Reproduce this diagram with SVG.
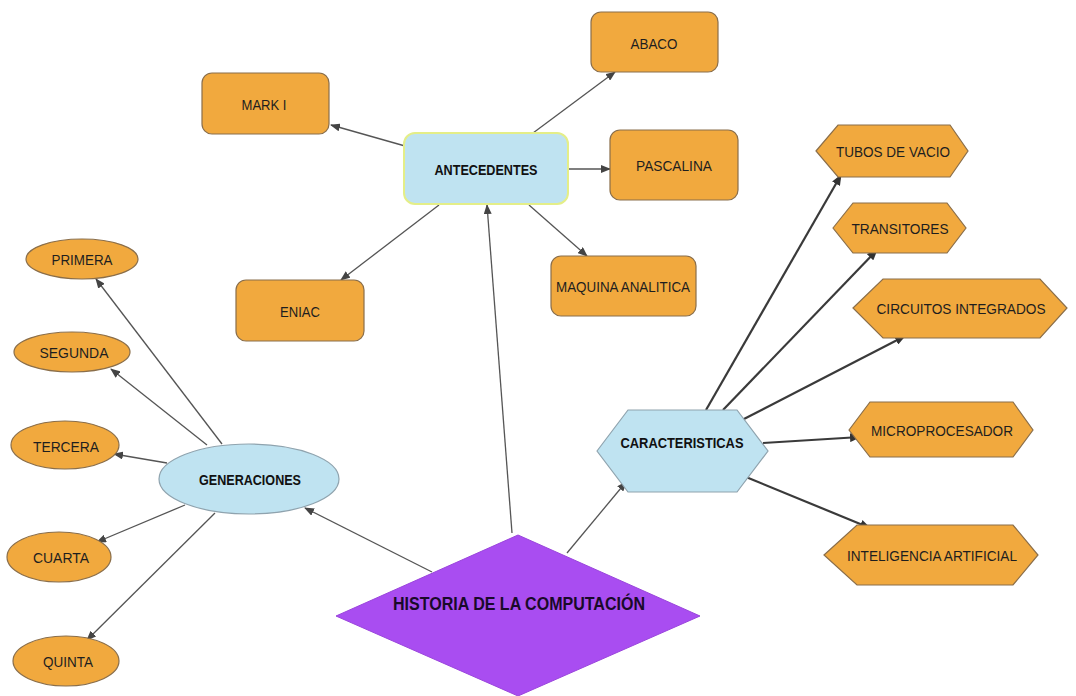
<svg xmlns="http://www.w3.org/2000/svg" width="1076" height="696" viewBox="0 0 1076 696">
<style>
.box{fill:#F1A93E;stroke:#8A6E4A;stroke-width:1.2}
.blue{fill:#BFE3F1;stroke:#8FA3AE;stroke-width:1.2}
.t{font-family:"Liberation Sans",Arial,sans-serif;font-size:15px;fill:#1E1E1E;text-anchor:middle;dominant-baseline:central}
.b{font-weight:bold;fill:#111}
.c{stroke:#555;stroke-width:1.3;fill:none;marker-end:url(#ah)}
.ck{stroke:#3A3A3A;stroke-width:2.2;fill:none;marker-end:url(#ah2)}
</style>
<defs>
<marker id="ah" markerUnits="userSpaceOnUse" markerWidth="10" markerHeight="8" refX="9" refY="4" orient="auto"><path d="M0,0 L10,4 L0,8 Z" fill="#444"/></marker>
<marker id="ah2" markerUnits="userSpaceOnUse" markerWidth="11" markerHeight="9" refX="10" refY="4.5" orient="auto"><path d="M0,0 L11,4.5 L0,9 Z" fill="#333"/></marker>
</defs>
<rect width="1076" height="696" fill="#FFFFFF"/>
<g id="connectors">
<line class="c" x1="512" y1="533" x2="487" y2="205"/>
<line class="c" x1="432" y1="572" x2="305" y2="508"/>
<line class="c" x1="567" y1="553" x2="626" y2="482"/>
<line class="c" x1="533" y1="133" x2="615" y2="72"/>
<line class="c" x1="405" y1="146" x2="331" y2="125"/>
<line class="c" x1="568" y1="169" x2="610" y2="169"/>
<line class="c" x1="439" y1="205" x2="341" y2="280"/>
<line class="c" x1="529" y1="205" x2="587" y2="256"/>
<line class="c" x1="222" y1="444" x2="96" y2="279"/>
<line class="c" x1="207" y1="445" x2="111" y2="369"/>
<line class="c" x1="167" y1="463" x2="114" y2="454"/>
<line class="c" x1="185" y1="505" x2="97" y2="542"/>
<line class="c" x1="215" y1="513" x2="87" y2="640"/>
<line class="ck" x1="706" y1="410" x2="841" y2="175"/>
<line class="ck" x1="723" y1="410" x2="877" y2="250"/>
<line class="ck" x1="742" y1="420" x2="905" y2="336"/>
<line class="ck" x1="763" y1="443" x2="860" y2="437"/>
<line class="ck" x1="746" y1="477" x2="870" y2="528"/>
</g>
<g id="abaco"><rect class="box" x="591" y="12" width="127" height="60" rx="10"/><text class="t" x="654" y="43" textLength="47" lengthAdjust="spacingAndGlyphs">ABACO</text></g>
<g id="marki"><rect class="box" x="202" y="73" width="127" height="61" rx="10"/><text class="t" x="264" y="104" textLength="45" lengthAdjust="spacingAndGlyphs">MARK I</text></g>
<g id="antecedentes"><rect x="404" y="133" width="164" height="71" rx="11" fill="#BFE3F1" stroke="#E4EE88" stroke-width="2"/><text class="t b" x="486" y="169" textLength="103" lengthAdjust="spacingAndGlyphs">ANTECEDENTES</text></g>
<g id="pascalina"><rect class="box" x="610" y="130" width="128" height="70" rx="10"/><text class="t" x="674" y="165" textLength="76" lengthAdjust="spacingAndGlyphs">PASCALINA</text></g>
<g id="eniac"><rect class="box" x="236" y="280" width="128" height="61" rx="10"/><text class="t" x="300" y="311" textLength="40" lengthAdjust="spacingAndGlyphs">ENIAC</text></g>
<g id="maquina"><rect class="box" x="551" y="256" width="145" height="60" rx="10"/><text class="t" x="623" y="286" textLength="134" lengthAdjust="spacingAndGlyphs">MAQUINA ANALITICA</text></g>
<g id="primera"><ellipse class="box" cx="82" cy="259" rx="56" ry="20"/><text class="t" x="82" y="259" textLength="61" lengthAdjust="spacingAndGlyphs">PRIMERA</text></g>
<g id="segunda"><ellipse class="box" cx="72" cy="352" rx="58" ry="20"/><text class="t" x="74" y="352" textLength="69" lengthAdjust="spacingAndGlyphs">SEGUNDA</text></g>
<g id="tercera"><ellipse class="box" cx="65" cy="445" rx="54" ry="24"/><text class="t" x="66" y="446" textLength="66" lengthAdjust="spacingAndGlyphs">TERCERA</text></g>
<g id="generaciones"><ellipse class="blue" cx="249" cy="479" rx="90" ry="35"/><text class="t b" x="250" y="479" textLength="102" lengthAdjust="spacingAndGlyphs">GENERACIONES</text></g>
<g id="cuarta"><ellipse class="box" cx="59" cy="557" rx="52" ry="25"/><text class="t" x="61" y="557" textLength="56" lengthAdjust="spacingAndGlyphs">CUARTA</text></g>
<g id="quinta"><ellipse class="box" cx="66" cy="661" rx="53" ry="25"/><text class="t" x="68" y="661" textLength="50" lengthAdjust="spacingAndGlyphs">QUINTA</text></g>
<g id="tubos"><polygon class="box" points="816,151 838,125 950,125 968,151 950,177 838,177"/><text class="t" x="893" y="151" textLength="114" lengthAdjust="spacingAndGlyphs">TUBOS DE VACIO</text></g>
<g id="transitores"><polygon class="box" points="833,228 853,203 947,203 966,228 947,253 853,253"/><text class="t" x="900" y="228" textLength="97" lengthAdjust="spacingAndGlyphs">TRANSITORES</text></g>
<g id="circuitos"><polygon class="box" points="853,308 883,279 1040,279 1067,308 1040,338 883,338"/><text class="t" x="961" y="308" textLength="169" lengthAdjust="spacingAndGlyphs">CIRCUITOS INTEGRADOS</text></g>
<g id="micro"><polygon class="box" points="849,430 870,402 1013,402 1033,430 1013,457 870,457"/><text class="t" x="942" y="430" textLength="142" lengthAdjust="spacingAndGlyphs">MICROPROCESADOR</text></g>
<g id="inteligencia"><polygon class="box" points="824,555 857,525 1013,525 1038,555 1013,585 857,585"/><text class="t" x="932" y="555" textLength="170" lengthAdjust="spacingAndGlyphs">INTELIGENCIA ARTIFICIAL</text></g>
<g id="caracteristicas"><polygon class="blue" points="597,451 628,410 737,410 768,451 737,492 628,492"/><text class="t b" x="682" y="442" textLength="123" lengthAdjust="spacingAndGlyphs">CARACTERISTICAS</text></g>
<g id="historia"><polygon points="336,616 518,535 700,616 518,696" fill="#A94DF1" stroke="#9A45DC" stroke-width="1"/><text class="t b" x="519" y="604" style="font-size:18px;fill:#1A0A2A" textLength="252" lengthAdjust="spacingAndGlyphs">HISTORIA DE LA COMPUTACIÓN</text></g>
</svg>
